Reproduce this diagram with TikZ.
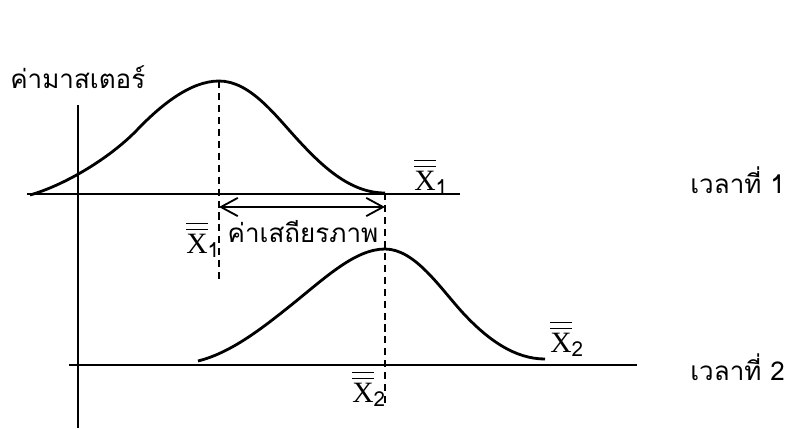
\documentclass[tikz,border=0pt]{standalone}
\usepackage{amsmath}
\usepackage{fontspec}
\usepackage{tikz}
\usetikzlibrary{arrows.meta}
\newfontfamily\thaifont[Script=Thai]{Loma}
\newfontfamily\xfont{Liberation Serif}
\newcommand{\xbb}[1]{$\overline{\overline{\text{\xfont X}}}_{\text{\thaifont #1}}$}

\begin{document}
\begin{tikzpicture}[
x=0.025cm,y=-0.025cm,
axis/.style={line width=1.3pt},
yaxis/.style={line width=1.8pt},
curve/.style={line width=2pt},
guide/.style={line width=1.2pt,dash pattern=on 5pt off 3.5pt},
arr/.style={{Straight Barb[length=12pt,width=13pt]}-{Straight Barb[length=12pt,width=13pt]},line width=1.3pt},
thailbl/.style={font=\thaifont\fontsize{18.5}{22}\selectfont,inner sep=0pt,anchor=base west},
xlbl/.style={font=\fontsize{21}{25}\selectfont,inner sep=0pt,anchor=base west}
]
\useasboundingbox (0,0) rectangle (787,428);

% axes
\coordinate (ytop) at (78,105);
\coordinate (ybot) at (78,428);
\coordinate (l1a) at (27,194);
\coordinate (l1b) at (460,194);
\coordinate (l2a) at (69,365);
\coordinate (l2b) at (637,365);
\draw[yaxis] (ytop) -- (ybot);
\draw[axis] (l1a) -- (l1b);
\draw[axis] (l2a) -- (l2b);

% curves
\coordinate (peak1) at (219,81);
\coordinate (peak2) at (385,249);
\coordinate (foot1) at (219,279);
\coordinate (top2) at (385,193);
\coordinate (foot2) at (385,407);
\draw[curve] (30,195) .. controls (65,185) and (110,158) .. (137,130)
  .. controls (160,106) and (190,81) .. (peak1)
  .. controls (250,81) and (275,115) .. (298,140)
  .. controls (322,166) and (350,193) .. (385,193);
\draw[curve] (198,361) .. controls (230,353) and (260,330) .. (290,306)
  .. controls (325,278) and (355,249) .. (peak2)
  .. controls (415,249) and (440,288) .. (463,313)
  .. controls (488,340) and (515,359) .. (545,359);

% guides
\draw[guide] (peak1) -- (foot1);
\draw[guide] (top2) -- (foot2);

% shift
\coordinate (a1) at (219,207);
\coordinate (a2) at (385,207);
\draw[arr] (a1) -- (a2);

% labels
\node[thailbl] (master) at (10,88) {ค่ามาสเตอร์};
\node[thailbl,anchor=base] (shift) at (303,242) {ค่าเสถียรภาพ};
\node[thailbl] (time1) at (690,193) {เวลาที่ 1};
\node[thailbl] (time2) at (690,380) {เวลาที่ 2};
\node[xlbl] (xa1) at (414,190) {\xbb{1}};
\node[xlbl] (xb1) at (186,253) {\xbb{1}};
\node[xlbl] (xa2) at (550,352) {\xbb{2}};
\node[xlbl] (xb2) at (352,402) {\xbb{2}};
\end{tikzpicture}
\end{document}
